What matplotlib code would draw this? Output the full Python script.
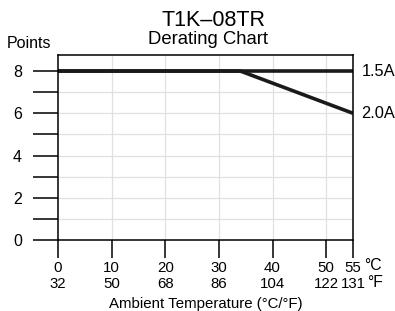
import numpy as np
import matplotlib.pyplot as plt

plt.rcParams['font.family'] = ['Liberation Sans', 'DejaVu Sans']

temp_c = [0, 10, 20, 30, 40, 50, 55]
temp_f = [32, 50, 68, 86, 104, 122, 131]
curve_15a_x = [0, 55]
curve_15a_y = [8, 8]
curve_20a_x = [0, 34, 55]
curve_20a_y = [8, 8, 6]

fig = plt.figure(figsize=(3.95, 3.11), dpi=100)
ax = fig.add_axes([58 / 395, 1 - 240 / 311, 295 / 395, 185 / 311])

ax.set_xlim(0, 55)
ax.set_ylim(0, 8.76)

for x in [10, 20, 30, 40, 50]:
    ax.axvline(x, color='#e0e0e0', lw=0.9, zorder=0)
for y in range(1, 9):
    ax.axhline(y, color='#e0e0e0', lw=0.9, zorder=0)

ax.plot(curve_15a_x, curve_15a_y, color='#1a1a1a', lw=2.6, solid_capstyle='butt')
ax.plot(curve_20a_x, curve_20a_y, color='#1a1a1a', lw=2.6, solid_capstyle='butt')

ax.set_xticks(temp_c)
ax.set_xticklabels(['%d\n%d' % (c, f) for c, f in zip(temp_c, temp_f)],
                   linespacing=1.2, fontsize=10.8)
ax.set_yticks([0, 2, 4, 6, 8])
ax.set_yticks([1, 3, 5, 7], minor=True)
ax.set_yticklabels(['0', '2', '4', '6', '8'], fontsize=11.5)
ax.tick_params(axis='y', which='both', direction='out', length=18, width=1.1, pad=8)
ax.tick_params(axis='x', direction='out', length=13, width=1.1, pad=2)
for s in ax.spines.values():
    s.set_linewidth(1.1)

ax.text(56.6, 8, '1.5A', fontsize=11.8, va='center', ha='left', clip_on=False)
ax.text(56.6, 6, '2.0A', fontsize=11.8, va='center', ha='left', clip_on=False)
ax.text(-1.2, 9.3, 'Points', fontsize=11.5, va='center', ha='right', clip_on=False)

ax.text(57.0, -1.2, '°C', fontsize=11.3, va='center', ha='left', clip_on=False)
ax.text(57.6, -2.02, '°F', fontsize=11.3, va='center', ha='left', clip_on=False)

fig.text(213 / 395, 1 - 21 / 311, 'T1K–08TR', fontsize=15.5, ha='center', va='center')
fig.text(208 / 395, 1 - 40 / 311, 'Derating Chart', fontsize=13.3, ha='center', va='center')
ax.set_xlabel('Ambient Temperature (°C/°F)', fontsize=10.8, labelpad=4)

fig.savefig('out.png', dpi=100)
